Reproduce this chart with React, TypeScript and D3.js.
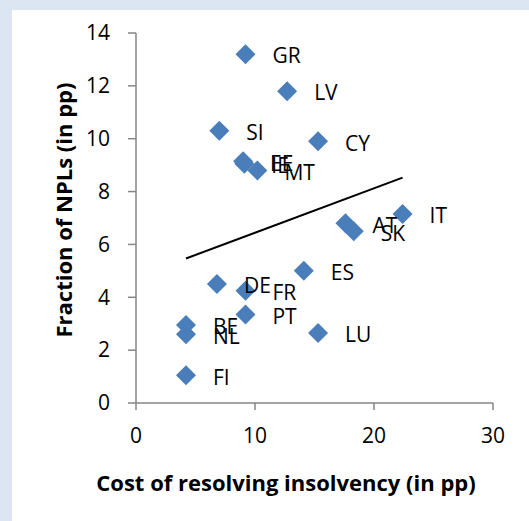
import React from "react";
import * as d3 from "d3";

const countries = ["GR", "LV", "SI", "CY", "EE", "IE", "MT", "IT", "AT", "SK", "ES", "DE", "FR", "PT", "BE", "NL", "LU", "FI"];
const costValues = [9.2, 12.7, 7.0, 15.3, 9.0, 9.1, 10.2, 22.4, 17.6, 18.3, 14.1, 6.8, 9.2, 9.2, 4.2, 4.2, 15.3, 4.2];
const nplValues = [13.2, 11.8, 10.3, 9.9, 9.15, 9.05, 8.8, 7.15, 6.8, 6.5, 5.0, 4.5, 4.25, 3.35, 2.95, 2.6, 2.65, 1.05];
const xTicks = [0, 10, 20, 30];
const yTicks = [0, 2, 4, 6, 8, 10, 12, 14];

const W = 529;
const H = 521;
const FONT = "'Open Sans', Lato, sans-serif";

export default function App() {
  const x = d3.scaleLinear().domain([0, 30]).range([136, 493]);
  const y = d3.scaleLinear().domain([0, 14]).range([403, 33]);

  const pts = countries.map((c, i) => ({ c, x: costValues[i], y: nplValues[i] }));
  const mx = d3.mean(costValues) as number;
  const my = d3.mean(nplValues) as number;
  const sxy = d3.sum(pts, (p) => (p.x - mx) * (p.y - my));
  const sxx = d3.sum(pts, (p) => (p.x - mx) * (p.x - mx));
  const slope = sxy / sxx;
  const icpt = my - slope * mx;
  const [x0, x1] = d3.extent(costValues) as [number, number];
  const trend = d3.line<number>().x((v) => x(v)).y((v) => y(icpt + slope * v));

  const diamond = d3.symbol().type(d3.symbolSquare).size(200)();

  return (
    <svg width={W} height={H} style={{ position: "absolute", left: 0, top: 0 }} fontFamily={FONT}>
      <rect x={0} y={0} width={W} height={H} fill="#dce6f2" />
      <rect x={12} y={10} width={W - 12} height={H - 10} fill="#ffffff" />
      {/* y axis */}
      <line x1={x(0)} x2={x(0)} y1={y(14)} y2={y(0)} stroke="#868686" strokeWidth={1.5} />
      {yTicks.map((t) => (
        <g key={"y" + t}>
          <line x1={x(0) - 8} x2={x(0)} y1={y(t)} y2={y(t)} stroke="#868686" strokeWidth={1.5} />
          <text x={110} y={y(t)} dy="0.35em" textAnchor="end" fontSize={21} fill="#000">
            {t}
          </text>
        </g>
      ))}
      {/* x axis */}
      <line x1={x(0)} x2={x(30)} y1={y(0)} y2={y(0)} stroke="#868686" strokeWidth={1.5} />
      {xTicks.map((t) => (
        <g key={"x" + t}>
          <line x1={x(t)} x2={x(t)} y1={y(0)} y2={y(0) + 7} stroke="#868686" strokeWidth={1.5} />
          <text x={x(t)} y={436} dy="0.35em" textAnchor="middle" fontSize={21} fill="#000">
            {t}
          </text>
        </g>
      ))}
      {/* trendline */}
      <path d={trend([x0, x1]) as string} stroke="#000" strokeWidth={2} fill="none" />
      {/* markers */}
      {pts.map((p) => (
        <path
          key={"m" + p.c}
          d={diamond as string}
          transform={`translate(${x(p.x)},${y(p.y)}) rotate(45)`}
          fill="#4a7ebb"
        />
      ))}
      {/* labels */}
      {pts.map((p) => (
        <text key={"l" + p.c} x={x(p.x) + 27} y={y(p.y) + 2} dy="0.35em" fontSize={21} fill="#000">
          {p.c}
        </text>
      ))}
      {/* axis titles */}
      <text x={286} y={483} dy="0.35em" textAnchor="middle" fontSize={22} fontWeight="bold" fill="#000">
        Cost of resolving insolvency (in pp)
      </text>
      <text
        transform={`translate(64,210) rotate(-90)`}
        dy="0.35em"
        textAnchor="middle"
        fontSize={22}
        fontWeight="bold"
        fill="#000"
      >
        Fraction of NPLs (in pp)
      </text>
    </svg>
  );
}
